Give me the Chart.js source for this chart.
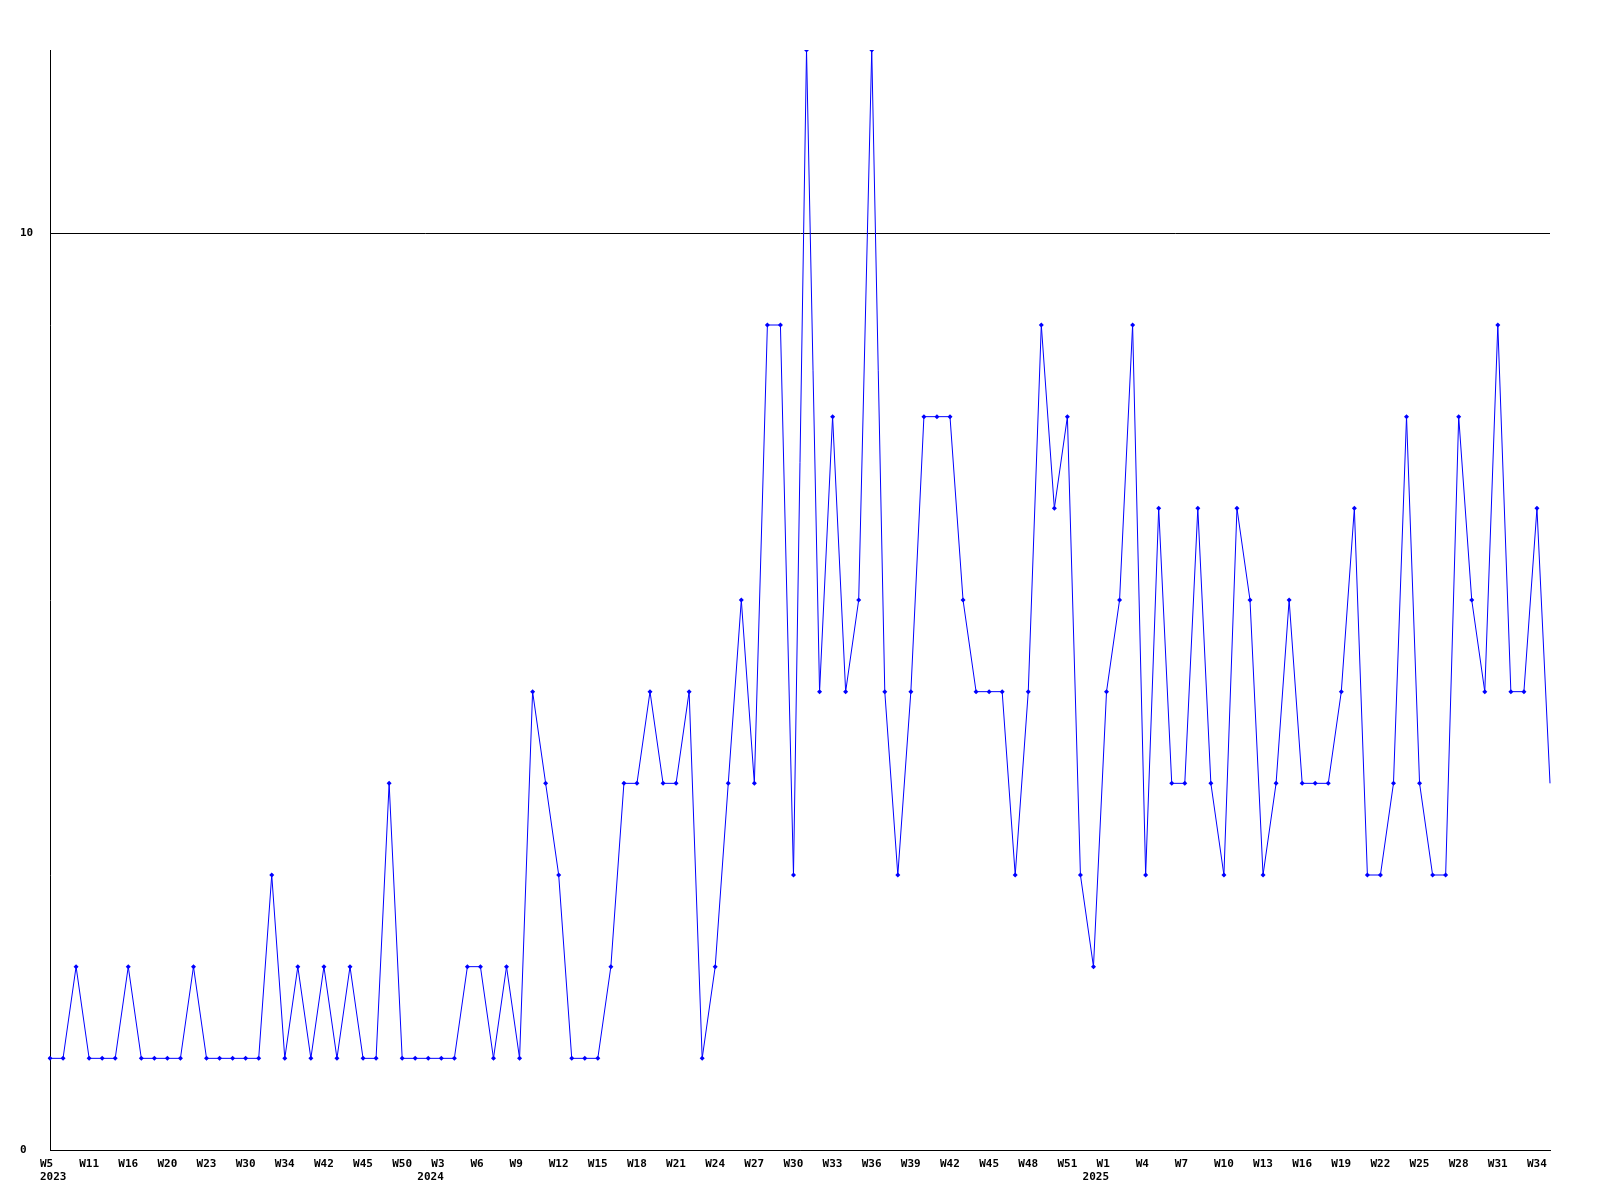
<!DOCTYPE html>
<html>
<head>
<meta charset="utf-8">
<script src="https://cdn.jsdelivr.net/npm/chart.js@4.4.1/dist/chart.umd.min.js"></script>
<style>
  body { margin: 0; background: #fff; }
  canvas { display: block; }
</style>
</head>
<body>
<canvas id="chart0" width="1600" height="1200"></canvas>
<script>
// week labels per year (2023 has gaps, weeks without entries are missing)
const weeks2023 = ["W5", "W7", "W9", "W11", "W13", "W14", "W16", "W17", "W19", "W20",
  "W21", "W22", "W23", "W26", "W28", "W30", "W31", "W33", "W34", "W37",
  "W40", "W42", "W43", "W44", "W45", "W47", "W49", "W50", "W51", "W52"];
const weeks2024 = ["W3", "W4", "W5", "W6", "W7", "W8", "W9", "W10", "W11", "W12",
  "W13", "W14", "W15", "W16", "W17", "W18", "W19", "W20", "W21", "W22",
  "W23", "W24", "W25", "W26", "W27", "W28", "W29", "W30", "W31", "W32",
  "W33", "W34", "W35", "W36", "W37", "W38", "W39", "W40", "W41", "W42",
  "W43", "W44", "W45", "W46", "W47", "W48", "W49", "W50", "W51", "W52", "W53"];
const weeks2025 = ["W1", "W2", "W3", "W4", "W5", "W6", "W7", "W8", "W9", "W10",
  "W11", "W12", "W13", "W14", "W15", "W16", "W17", "W18", "W19", "W20",
  "W21", "W22", "W23", "W24", "W25", "W26", "W27", "W28", "W29", "W30",
  "W31", "W32", "W33", "W34", "W35"];

const counts2023 = [1, 1, 2, 1, 1, 1, 2, 1, 1, 1, 1, 2, 1, 1, 1, 1, 1, 3, 1, 2,
  1, 2, 1, 2, 1, 1, 4, 1, 1, 1];
const counts2024 = [1, 1, 2, 2, 1, 2, 1, 5, 4, 3, 1, 1, 1, 2, 4, 4, 5, 4, 4, 5,
  1, 2, 4, 6, 4, 9, 9, 3, 12, 5, 8, 5, 6, 12, 5, 3, 5, 8, 8, 8,
  6, 5, 5, 5, 3, 5, 9, 7, 8, 3, 2];
const counts2025 = [5, 6, 9, 3, 7, 4, 4, 7, 4, 3, 7, 6, 3, 4, 6, 4, 4, 4, 5, 7,
  3, 3, 4, 8, 4, 3, 3, 8, 6, 5, 9, 5, 5, 7, 4];

const yearLabels = ["2023", "2024", "2025"];
const yTicks = [0, 10];

let labels = weeks2023.concat(weeks2024, weeks2025);
let data = counts2023.concat(counts2024, counts2025);

// index where each year starts on the x axis
let yearIndex = [0, weeks2023.length, weeks2023.length + weeks2024.length];

let ctx = document.getElementById("chart0").getContext("2d");
let fontFamily = "'DejaVu Sans Mono', monospace";
let tickFont = { family: fontFamily, size: 11, weight: "bold", lineHeight: 1.2 };

// second row under the week labels with the year
const yearRow = {
  id: "yearRow",
  afterDraw(chart) {
    let x = chart.scales.x;
    let c = chart.ctx;
    c.save();
    c.font = "bold 11px " + fontFamily;
    c.fillStyle = "#000";
    c.textAlign = "left";
    c.textBaseline = "middle";
    yearIndex.forEach((idx, i) => {
      let px = Math.max(x.getPixelForValue(idx) - 24, chart.chartArea.left - 10);
      c.fillText(yearLabels[i], px, x.top + 27);
    });
    c.restore();
  }
};

let chart = new Chart(ctx, {
  type: "line",
  data: {
    labels: labels,
    datasets: [{
      data: data,
      borderColor: "#0000ff",
      backgroundColor: "#0000ff",
      borderWidth: 1,
      tension: 0,
      fill: false,
      pointStyle: "rectRot",
      pointRadius: c => (c.dataIndex === data.length - 1 ? 0 : 2.5),
      pointBorderWidth: 0,
      pointHoverRadius: 2.5
    }]
  },
  options: {
    responsive: false,
    animation: false,
    devicePixelRatio: 1,
    layout: { padding: { top: 50, right: 50, left: 20, bottom: 0 } },
    plugins: {
      legend: { display: false },
      tooltip: { enabled: false }
    },
    scales: {
      x: {
        offset: false,
        grid: { color: "rgba(0,0,0,0)", drawTicks: false },
        border: { display: true, color: "#000", width: 1 },
        afterFit: s => { s.height = 50; },
        ticks: {
          autoSkip: false,
          maxRotation: 0,
          minRotation: 0,
          align: "start",
          labelOffset: -10,
          padding: 8,
          color: "#000",
          font: tickFont,
          callback: function (value, index) {
            return index % 3 === 0 ? labels[index] : null;
          }
        }
      },
      y: {
        min: 0,
        max: 12,
        afterFit: s => { s.width = 30; },
        afterBuildTicks: s => { s.ticks = yTicks.map(v => ({ value: v })); },
        grid: { color: "#000", lineWidth: 1, drawTicks: false },
        border: { display: true, color: "#000", width: 1 },
        ticks: {
          crossAlign: "far",
          padding: 0,
          color: "#000",
          font: tickFont
        }
      }
    }
  },
  plugins: [yearRow]
});
</script>
</body>
</html>
